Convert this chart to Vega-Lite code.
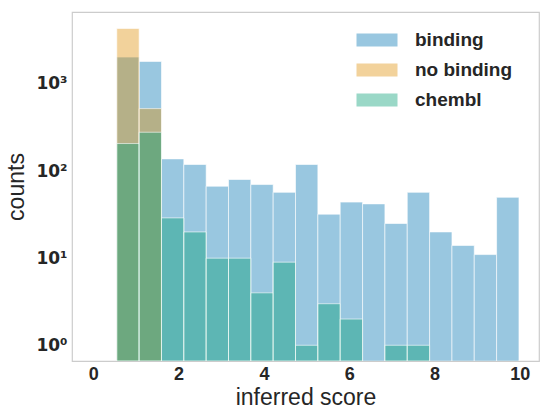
{
  "$schema": "https://vega.github.io/schema/vega-lite/v6.json",
  "width": 467,
  "height": 349,
  "autosize": "none",
  "padding": {"left": 72, "top": 12, "right": 1, "bottom": 47},
  "background": "white",
  "config": {
    "font": "Liberation Sans",
    "view": {"stroke": "#cccccc", "strokeWidth": 1.2},
    "axis": {"domain": false, "grid": false, "ticks": false, "labelColor": "#262626", "titleColor": "#262626", "labelFont": "Liberation Sans", "titleFont": "Liberation Sans"}
  },
  "data": {
    "values": [
      {"bin_start": 0.55, "bin_end": 1.074, "series": "binding", "count": 2033},
      {"bin_start": 1.074, "bin_end": 1.598, "series": "binding", "count": 1815},
      {"bin_start": 1.598, "bin_end": 2.122, "series": "binding", "count": 138},
      {"bin_start": 2.122, "bin_end": 2.646, "series": "binding", "count": 119},
      {"bin_start": 2.646, "bin_end": 3.170, "series": "binding", "count": 67},
      {"bin_start": 3.170, "bin_end": 3.693, "series": "binding", "count": 80},
      {"bin_start": 3.693, "bin_end": 4.217, "series": "binding", "count": 70},
      {"bin_start": 4.217, "bin_end": 4.741, "series": "binding", "count": 57},
      {"bin_start": 4.741, "bin_end": 5.265, "series": "binding", "count": 119},
      {"bin_start": 5.265, "bin_end": 5.789, "series": "binding", "count": 32},
      {"bin_start": 5.789, "bin_end": 6.313, "series": "binding", "count": 44},
      {"bin_start": 6.313, "bin_end": 6.837, "series": "binding", "count": 42},
      {"bin_start": 6.837, "bin_end": 7.361, "series": "binding", "count": 25},
      {"bin_start": 7.361, "bin_end": 7.885, "series": "binding", "count": 57},
      {"bin_start": 7.885, "bin_end": 8.409, "series": "binding", "count": 20},
      {"bin_start": 8.409, "bin_end": 8.932, "series": "binding", "count": 14},
      {"bin_start": 8.932, "bin_end": 9.456, "series": "binding", "count": 11},
      {"bin_start": 9.456, "bin_end": 9.98, "series": "binding", "count": 50},
      {"bin_start": 0.55, "bin_end": 1.074, "series": "no binding", "count": 4335},
      {"bin_start": 1.074, "bin_end": 1.598, "series": "no binding", "count": 521},
      {"bin_start": 0.55, "bin_end": 1.074, "series": "chembl", "count": 207},
      {"bin_start": 1.074, "bin_end": 1.598, "series": "chembl", "count": 279},
      {"bin_start": 1.598, "bin_end": 2.122, "series": "chembl", "count": 29},
      {"bin_start": 2.122, "bin_end": 2.646, "series": "chembl", "count": 20},
      {"bin_start": 2.646, "bin_end": 3.170, "series": "chembl", "count": 10},
      {"bin_start": 3.170, "bin_end": 3.693, "series": "chembl", "count": 10},
      {"bin_start": 3.693, "bin_end": 4.217, "series": "chembl", "count": 4},
      {"bin_start": 4.217, "bin_end": 4.741, "series": "chembl", "count": 9},
      {"bin_start": 4.741, "bin_end": 5.265, "series": "chembl", "count": 1},
      {"bin_start": 5.265, "bin_end": 5.789, "series": "chembl", "count": 3},
      {"bin_start": 5.789, "bin_end": 6.313, "series": "chembl", "count": 2},
      {"bin_start": 6.837, "bin_end": 7.361, "series": "chembl", "count": 1},
      {"bin_start": 7.361, "bin_end": 7.885, "series": "chembl", "count": 1}
    ]
  },
  "mark": {"type": "bar", "fillOpacity": 0.4, "stroke": "white", "strokeWidth": 1, "strokeOpacity": 0.6, "clip": true},
  "encoding": {
    "x": {
      "field": "bin_start", "type": "quantitative",
      "scale": {"domain": [-0.5, 10.45], "nice": false, "zero": false},
      "axis": {"values": [0, 2, 4, 6, 8, 10], "title": "inferred score", "labelFontSize": 18, "labelFontWeight": "bold", "labelPadding": 4, "titleFontSize": 23, "titleFontWeight": "normal", "titlePadding": 3}
    },
    "x2": {"field": "bin_end"},
    "y": {
      "field": "count", "type": "quantitative",
      "scale": {"type": "log", "domain": [0.66, 6700], "nice": false},
      "axis": {"values": [1, 10, 100, 1000], "labelExpr": "'10' + (datum.value == 1 ? '⁰' : datum.value == 10 ? '¹' : datum.value == 100 ? '²' : '³')", "title": "counts", "labelFont": "DejaVu Sans", "labelFontSize": 17, "labelFontWeight": "bold", "labelPadding": 5, "titleFontSize": 23, "titleFontWeight": "normal", "titlePadding": 7}
    },
    "y2": {"datum": 0.66},
    "color": {
      "field": "series", "type": "nominal",
      "scale": {"domain": ["binding", "no binding", "chembl"], "range": ["#0173B2", "#DE8F05", "#029E73"]},
      "legend": {
        "title": null, "orient": "none", "legendX": 295, "legendY": 18,
        "symbolType": "M-2.05,-0.65L2.05,-0.65L2.05,0.65L-2.05,0.65Z", "symbolSize": 400,
        "symbolOpacity": 0.4, "symbolStrokeWidth": 0,
        "labelFontSize": 19, "labelFontWeight": "bold", "labelColor": "#262626", "labelOffset": 28,
        "rowPadding": 10
      }
    },
    "order": {"value": 0}
  }
}
